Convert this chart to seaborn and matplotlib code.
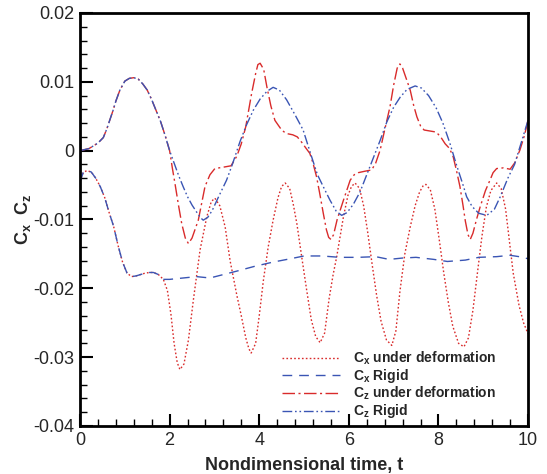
import numpy as np
import pandas as pd
import matplotlib
matplotlib.use("Agg")
import matplotlib.pyplot as plt
import seaborn as sns
from matplotlib.ticker import MultipleLocator

sns.set_theme(style="white")
plt.rcParams['font.family'] = ['Liberation Sans', 'DejaVu Sans']
plt.rcParams['mathtext.fontset'] = 'custom'
plt.rcParams['mathtext.rm'] = 'Liberation Sans:bold'
plt.rcParams['mathtext.it'] = 'Liberation Sans:bold'
plt.rcParams['mathtext.bf'] = 'Liberation Sans:bold'

# ---- data ----
# shared initial part of Cx (both cases)
cx_shared_t = [0.0, 0.07, 0.15, 0.25, 0.35, 0.45, 0.55, 0.65, 0.75, 0.85, 0.95, 1.05, 1.15, 1.25,
               1.35, 1.45, 1.55, 1.64, 1.75, 1.86]
cx_shared_v = [-0.0045, -0.0032, -0.0029, -0.0031, -0.0040, -0.0052, -0.0068, -0.0090, -0.0110,
               -0.0138, -0.0162, -0.0178, -0.0183, -0.0182, -0.0180, -0.0178, -0.0177, -0.0177,
               -0.0180, -0.0187]

cx_def_t = [1.95, 2.03, 2.10, 2.17, 2.23, 2.32, 2.42, 2.53, 2.68, 2.83, 2.93, 3.01, 3.12, 3.24,
            3.35, 3.50, 3.60, 3.70, 3.77, 3.82, 3.92, 4.00, 4.09, 4.20, 4.31, 4.42, 4.50, 4.58,
            4.68, 4.76, 4.84, 4.95, 5.06, 5.16, 5.26, 5.36, 5.46, 5.56, 5.65, 5.73, 5.88, 5.98,
            6.06, 6.14, 6.24, 6.33, 6.42, 6.52, 6.62, 6.72, 6.84, 6.96, 7.05, 7.14, 7.25, 7.37,
            7.48, 7.58, 7.66, 7.72, 7.82, 7.92, 8.02, 8.12, 8.22, 8.32, 8.45, 8.57, 8.67, 8.77,
            8.87, 8.97, 9.07, 9.17, 9.30, 9.40, 9.50, 9.60, 9.67, 9.80, 9.90, 10.0]
cx_def_v = [-0.0203, -0.0238, -0.0280, -0.0308, -0.0318, -0.0310, -0.0275, -0.0217, -0.0144,
            -0.0096, -0.0074, -0.0069, -0.0080, -0.0111, -0.0160, -0.0210, -0.0240, -0.0272,
            -0.0288, -0.0294, -0.0280, -0.0240, -0.0190, -0.0140, -0.0101, -0.0068, -0.0052,
            -0.0047, -0.0055, -0.0078, -0.0106, -0.0155, -0.0203, -0.0245, -0.0270, -0.0279,
            -0.0265, -0.0215, -0.0180, -0.0154, -0.0096, -0.0065, -0.0052, -0.0047, -0.0055,
            -0.0080, -0.0118, -0.0165, -0.0210, -0.0248, -0.0275, -0.0283, -0.0262, -0.0205,
            -0.0150, -0.0111, -0.0080, -0.0060, -0.0051, -0.0049, -0.0057, -0.0085, -0.0130,
            -0.0178, -0.0220, -0.0255, -0.0280, -0.0285, -0.0272, -0.0232, -0.0178, -0.0125,
            -0.0082, -0.0058, -0.0047, -0.0055, -0.0085, -0.0140, -0.0178, -0.0225, -0.0250,
            -0.0266]

cx_rig_t = [2.0, 2.3, 2.6, 2.9, 3.2, 3.5, 3.9, 4.3, 4.7, 5.0, 5.4, 5.8, 6.2, 6.6, 6.9, 7.2,
            7.5, 7.9, 8.2, 8.6, 8.9, 9.3, 9.6, 9.8, 10.0]
cx_rig_v = [-0.0187, -0.0185, -0.0183, -0.0185, -0.0180, -0.0175, -0.0168, -0.0162, -0.0157,
            -0.0153, -0.0153, -0.0155, -0.0155, -0.0154, -0.0158, -0.0156, -0.0155, -0.0158,
            -0.0161, -0.0159, -0.0155, -0.0154, -0.0152, -0.0154, -0.0157]

# shared initial part of Cz (both cases)
cz_shared_t = [0.0, 0.2, 0.4, 0.52, 0.6, 0.74, 0.8, 0.89, 1.0, 1.1, 1.2, 1.3, 1.4, 1.5, 1.6,
               1.7, 1.8, 1.9, 2.0]
cz_shared_v = [0.0000, 0.0003, 0.0011, 0.0019, 0.0032, 0.0059, 0.0072, 0.0088, 0.0101, 0.0105,
               0.0106, 0.0104, 0.0097, 0.0088, 0.0074, 0.0058, 0.0042, 0.0022, 0.0000]

cz_def_t = [2.06, 2.12, 2.20, 2.27, 2.35, 2.42, 2.50, 2.64, 2.79, 2.90, 3.01, 3.20, 3.37, 3.50,
            3.60, 3.70, 3.83, 3.92, 3.97, 4.02, 4.10, 4.17, 4.26, 4.35, 4.50, 4.60, 4.75, 4.85,
            4.95, 5.05, 5.13, 5.20, 5.28, 5.35, 5.43, 5.50, 5.55, 5.60, 5.66, 5.74, 5.88, 6.03,
            6.12, 6.21, 6.35, 6.51, 6.60, 6.70, 6.80, 6.92, 7.00, 7.08, 7.14, 7.20, 7.28, 7.37,
            7.45, 7.52, 7.60, 7.68, 7.77, 7.95, 8.05, 8.15, 8.25, 8.33, 8.40, 8.48, 8.55, 8.60,
            8.66, 8.71, 8.77, 8.85, 8.93, 9.05, 9.15, 9.22, 9.30, 9.45, 9.60, 9.70, 9.82, 9.92,
            10.0]
cz_def_v = [-0.0025, -0.0048, -0.0080, -0.0106, -0.0127, -0.0135, -0.0127, -0.0101, -0.0052,
            -0.0035, -0.0026, -0.0024, -0.0022, -0.0008, 0.0010, 0.0035, 0.0083, 0.0112, 0.0125,
            0.0127, 0.0118, 0.0093, 0.0065, 0.0044, 0.0030, 0.0025, 0.0023, 0.0020, 0.0012,
            0.0003, -0.0004, -0.0018, -0.0038, -0.0062, -0.0091, -0.0115, -0.0126, -0.0129,
            -0.0122, -0.0100, -0.0072, -0.0043, -0.0035, -0.0032, -0.0030, -0.0028, -0.0018,
            0.0001, 0.0030, 0.0064, 0.0095, 0.0120, 0.0126, 0.0120, 0.0105, 0.0088, 0.0065,
            0.0049, 0.0036, 0.0030, 0.0029, 0.0027, 0.0020, 0.0010, 0.0003, -0.0009, -0.0028,
            -0.0052, -0.0080, -0.0102, -0.0122, -0.0129, -0.0120, -0.0100, -0.0082, -0.0058,
            -0.0043, -0.0032, -0.0026, -0.0025, -0.0027, -0.0018, 0.0001, 0.0022, 0.0044]

cz_rig_t = [2.1, 2.2, 2.3, 2.4, 2.5, 2.6, 2.7, 2.75, 2.85, 2.95, 3.1, 3.27, 3.4, 3.57, 3.72,
            3.87, 4.02, 4.17, 4.31, 4.45, 4.61, 4.80, 4.98, 5.15, 5.30, 5.45, 5.58, 5.72, 5.84,
            5.96, 6.10, 6.25, 6.40, 6.55, 6.70, 6.85, 7.00, 7.15, 7.30, 7.48, 7.62, 7.78, 7.95,
            8.10, 8.25, 8.40, 8.55, 8.63, 8.75, 8.90, 9.08, 9.25, 9.38, 9.55, 9.70, 9.85, 10.0]
cz_rig_v = [-0.0018, -0.0036, -0.0052, -0.0067, -0.0079, -0.0089, -0.0098, -0.0101, -0.0097,
            -0.0087, -0.0066, -0.0043, -0.0020, 0.0013, 0.0038, 0.0059, 0.0075, 0.0086, 0.0092,
            0.0088, 0.0074, 0.0052, 0.0030, -0.0005, -0.0035, -0.0055, -0.0072, -0.0088,
            -0.0094, -0.0090, -0.0078, -0.0060, -0.0035, -0.0010, 0.0015, 0.0042, 0.0063,
            0.0078, 0.0089, 0.0094, 0.0091, 0.0080, 0.0062, 0.0040, 0.0012, -0.0020, -0.0050,
            -0.0067, -0.0081, -0.0091, -0.0094, -0.0085, -0.0067, -0.0040, -0.0020, 0.0012,
            0.0044]

labels = [r'C$_{\mathrm{x}}$ under deformation', r'C$_{\mathrm{x}}$ Rigid',
          r'C$_{\mathrm{z}}$ under deformation', r'C$_{\mathrm{z}}$ Rigid']

series = [
    (cx_shared_t + cx_def_t, cx_shared_v + cx_def_v, '#d92b2b', (0, (1.2, 1.6))),
    (cx_shared_t + cx_rig_t, cx_shared_v + cx_rig_v, '#3a55b4', (0, (7, 5))),
    (cz_shared_t + cz_def_t, cz_shared_v + cz_def_v, '#d92b2b', (0, (9, 2.5, 1.5, 2.5))),
    (cz_shared_t + cz_rig_t, cz_shared_v + cz_rig_v, '#3a55b4', (0, (7, 2, 1.2, 2, 1.2, 2))),
]

fig = plt.figure(figsize=(5.47, 4.74), dpi=100)
ax = fig.add_axes([0.1463, 0.1013, 0.8190, 0.8713])

for (t, v, c, ls), lab in zip(series, labels):
    df = pd.DataFrame({'t': t, 'v': v})
    sns.lineplot(data=df, x='t', y='v', ax=ax, color=c, linestyle=ls, linewidth=1.0,
                 label=lab, estimator=None, sort=True)

ax.set_xlim(0, 10)
ax.set_ylim(-0.04, 0.02)
ax.xaxis.set_minor_locator(MultipleLocator(0.4))
ax.yaxis.set_minor_locator(MultipleLocator(0.002))
ax.set_yticks([0.02, 0.01, 0, -0.01, -0.02, -0.03, -0.04])
ax.set_yticklabels(['0.02', '0.01', '0', '-0.01', '-0.02', '-0.03', '-0.04'])
ax.set_xticks([0, 2, 4, 6, 8, 10])
ax.set_xticklabels(['0', '2', '4', '6', '8', '10'])
ax.tick_params(which='both', direction='in', top=False, right=False, left=True, bottom=True,
               color='black')
ax.tick_params(which='major', length=9, width=1.5, labelsize=13, pad=4)
ax.tick_params(which='minor', length=5, width=1.0)
for s in ax.spines.values():
    s.set_color('black')
    s.set_linewidth(2.0)

ax.set_xlabel('Nondimensional time, t', fontsize=13, fontweight='bold', labelpad=6)
ax.set_ylabel(r'C$_{\mathrm{x}}$  C$_{\mathrm{z}}$', fontsize=13, fontweight='bold', labelpad=0)

leg = ax.legend(loc='lower right', bbox_to_anchor=(0.942, 0.0), frameon=False,
                prop={'weight': 'bold', 'size': 10}, handlelength=4.2, labelspacing=0.0,
                handletextpad=0.9, borderaxespad=0.0)

fig.savefig('out.png', dpi=100, facecolor='white')
